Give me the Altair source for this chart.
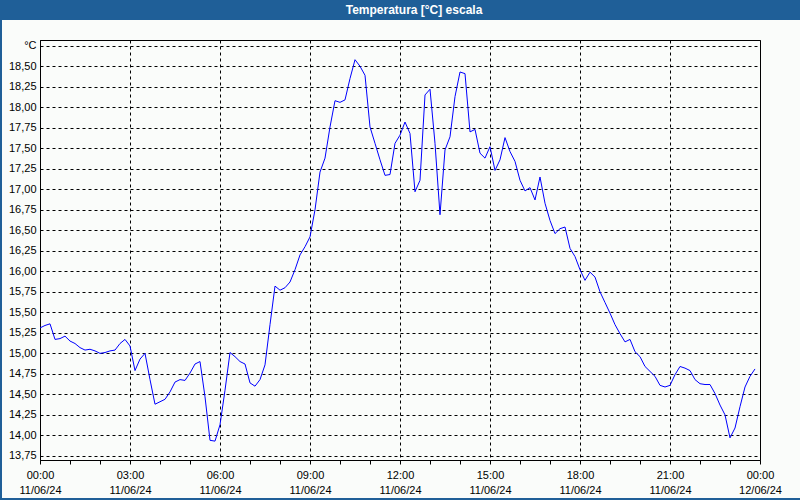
import altair as alt
import pandas as pd

# 10-minute readings, 11/06/24 00:00 .. 23:50
temps = [
    15.31, 15.34, 15.36, 15.17, 15.18, 15.21, 15.15, 15.12, 15.07, 15.04,
    15.05, 15.03, 15.00, 15.01, 15.03, 15.04, 15.12, 15.17, 15.09, 14.79,
    14.93, 15.00, 14.68, 14.38, 14.41, 14.44, 14.53, 14.65, 14.68, 14.67,
    14.76, 14.87, 14.90, 14.47, 13.94, 13.93, 14.13, 14.55, 15.01, 14.96,
    14.90, 14.87, 14.64, 14.60, 14.68, 14.86, 15.35, 15.82, 15.77, 15.80,
    15.87, 16.02, 16.20, 16.30, 16.42, 16.75, 17.21, 17.38, 17.76, 18.08,
    18.06, 18.09, 18.35, 18.58, 18.50, 18.39, 17.76, 17.56, 17.36, 17.17,
    17.18, 17.56, 17.66, 17.82, 17.68, 16.97, 17.11, 18.15, 18.22, 17.56,
    16.69, 17.48, 17.64, 18.13, 18.43, 18.41, 17.70, 17.73, 17.44, 17.38,
    17.52, 17.23, 17.36, 17.63, 17.46, 17.34, 17.11, 16.98, 17.02, 16.87,
    17.15, 16.83, 16.62, 16.46, 16.52, 16.54, 16.28, 16.18, 16.02, 15.89,
    15.99, 15.93, 15.75, 15.62, 15.49, 15.35, 15.24, 15.14, 15.17, 15.02,
    14.96, 14.84, 14.78, 14.72, 14.61, 14.59, 14.61, 14.74, 14.84, 14.82,
    14.79, 14.68, 14.63, 14.62, 14.62, 14.51, 14.37, 14.25, 13.97, 14.09,
    14.35, 14.59, 14.72, 14.81,
]
hours = [i * 10 / 60 for i in range(len(temps))]

y_ticks = [13.75, 14.00, 14.25, 14.50, 14.75, 15.00, 15.25, 15.50, 15.75, 16.00,
           16.25, 16.50, 16.75, 17.00, 17.25, 17.50, 17.75, 18.00, 18.25, 18.50, 18.75]
x_ticks = list(range(0, 25))
title_text = "Temperatura [°C] escala"

df = pd.DataFrame({"h": hours, "t": temps})

BLUE = "#1f5f98"
BG = "#fafcfa"
FONT = "Liberation Sans"

x_axis = alt.Axis(
    values=x_ticks,
    labelExpr="datum.value % 3 == 0 ? [((datum.value % 24) < 10 ? '0' : '') + (datum.value % 24) + ':00', datum.value < 24 ? '11/06/24' : '12/06/24'] : ''",
    grid=True, gridColor="black", gridDash=[3, 3], gridWidth=1,
    gridOpacity={"condition": {"test": "datum.value % 3 == 0", "value": 1}, "value": 0},
    ticks=True, tickSize=4, tickColor="black", tickWidth=1,
    domainColor="black", labelColor="black", labelFont=FONT, labelFontSize=11,
    labelPadding=5, labelLineHeight=15, labelBaseline="top",
    labelFlush=False, labelOverlap=False, title=None,
)
y_axis = alt.Axis(
    values=y_ticks,
    labelExpr="datum.value > 18.7 ? '°C' : replace(format(datum.value, '.2f'), '.', ',')",
    grid=True, gridColor="black", gridDash=[3, 3], gridWidth=1,
    ticks=False, domainColor="black", labelColor="black", labelFont=FONT,
    labelFontSize=11, labelPadding=4, labelFlush=False, labelOverlap=False, title=None,
)

line = alt.Chart(df).mark_line(color="#0000ff", strokeWidth=1, clip=True).encode(
    x=alt.X("h:Q", scale=alt.Scale(domain=[0, 24], nice=False, zero=False), axis=x_axis),
    y=alt.Y("t:Q", scale=alt.Scale(domain=[13.70, 18.82], nice=False, zero=False), axis=y_axis),
)

deco = pd.DataFrame({"k": [0]})
bar = alt.Chart(deco).mark_rect(color=BLUE).encode(
    x=alt.value(-40), x2=alt.value(760), y=alt.value(-40), y2=alt.value(-20)
)
left_border = alt.Chart(deco).mark_rect(color=BLUE).encode(
    x=alt.value(-40), x2=alt.value(-38), y=alt.value(-20), y2=alt.value(460)
)
bottom_border = alt.Chart(deco).mark_rect(color=BLUE).encode(
    x=alt.value(-40), x2=alt.value(760), y=alt.value(458), y2=alt.value(460)
)
title = alt.Chart(deco).mark_text(
    color="white", font=FONT, fontSize=12, fontWeight="bold",
    align="center", baseline="alphabetic",
).encode(x=alt.value(374), y=alt.value(-26), text=alt.value(title_text))

chart = alt.layer(bar, left_border, bottom_border, title, line).properties(
    width=720, height=420,
    autosize=alt.AutoSizeParams(type="none"),
    padding={"left": 40, "top": 40, "right": 40, "bottom": 40},
    background=BG,
).configure_view(stroke="black", strokeWidth=1, fill=BG)

chart.save("out.html", embed_options={"renderer": "svg", "actions": False})
